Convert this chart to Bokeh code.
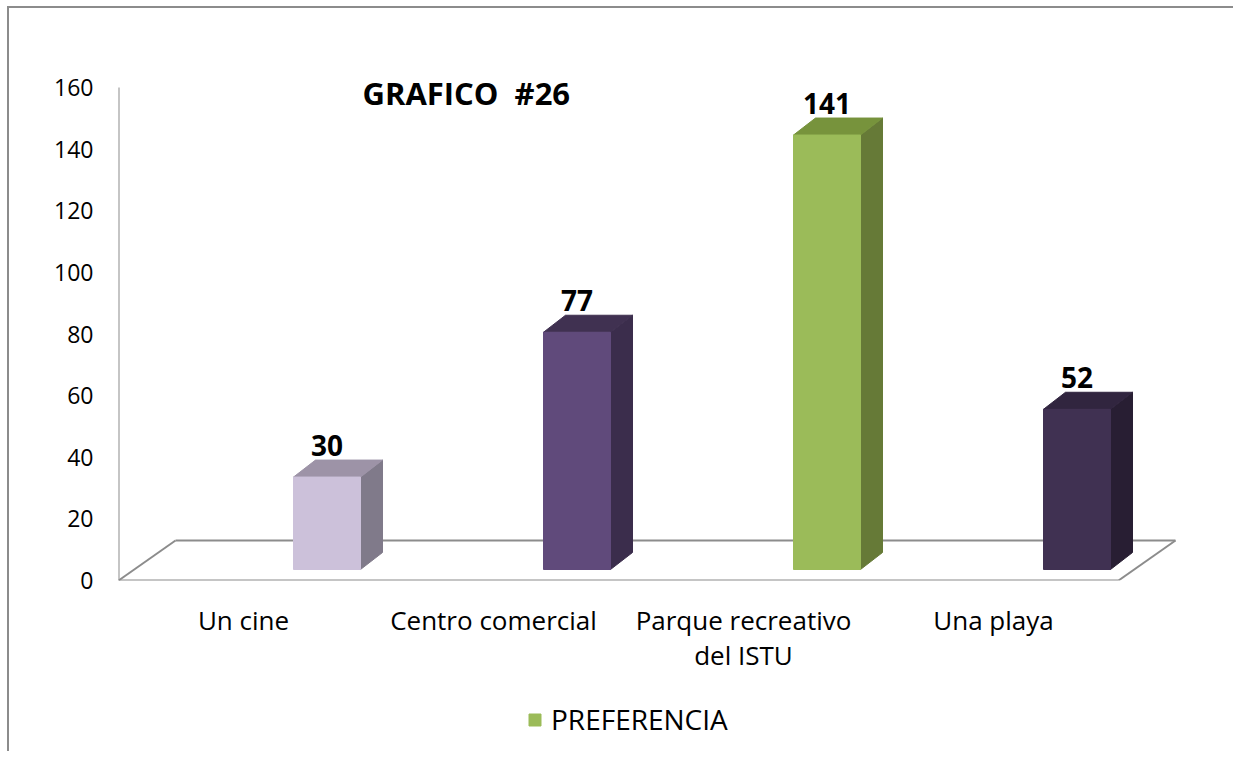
from bokeh.plotting import figure
from bokeh.layouts import column
from bokeh.models import (FixedTicker, Range1d, Label, Legend, LegendItem,
                          ColumnDataSource)
from bokeh.core.properties import value
from bokeh.embed import file_html
from bokeh.resources import INLINE

# ---------------- data ----------------
categories = ["Un cine", "Centro comercial", "Parque recreativo\ndel ISTU", "Una playa"]
counts = [30, 77, 141, 52]
y_ticks = [0, 20, 40, 60, 80, 100, 120, 140, 160]
series_name = "PREFERENCIA"
title_text = "GRAFICO  #26"
front_colors = ["#CCC1DA", "#604A7B", "#9BBB59", "#403152"]
top_colors = ["#9D93A7", "#403151", "#77933C", "#31253F"]
side_colors = ["#807A8A", "#3B2D4C", "#667A37", "#281E33"]

# ---------------- geometry (styling of the pseudo-3D look) ----------------
FONT = "Open Sans"
W, H, H_LEG = 1233, 700, 51
B_LEFT, B_TOP, B_RIGHT, B_BOTTOM = 118, 40, 43, 120
PX_PER_CAT = 250.0
PX_PER_UNIT = 493.0 / 160.0
frame_w = W - B_LEFT - B_RIGHT
frame_h = H - B_TOP - B_BOTTOM
n = len(categories)

floor_dx = 57 / PX_PER_CAT          # depth of floor (x, category units)
floor_dy = 40 / PX_PER_UNIT         # depth of floor (y, value units)
bar_shift = 83.5 / PX_PER_CAT       # bars sit inside the floor
bar_base = 11 / PX_PER_UNIT
bar_w = 67 / PX_PER_CAT
dep_x = 22 / PX_PER_CAT
dep_y = 17 / PX_PER_UNIT
line_col = "#8C8C8C"

p = figure(width=W, height=H, output_backend="svg", toolbar_location=None,
           x_range=Range1d(0, frame_w / PX_PER_CAT),
           y_range=Range1d(0, frame_h / PX_PER_UNIT),
           min_border_left=B_LEFT, min_border_top=B_TOP,
           min_border_right=B_RIGHT, min_border_bottom=B_BOTTOM)
p.outline_line_color = None
p.xgrid.visible = False
p.ygrid.visible = False
p.background_fill_alpha = 0
p.border_fill_alpha = 0

# axes
p.yaxis.ticker = FixedTicker(ticks=y_ticks)
p.yaxis.axis_line_color = None
p.yaxis.major_tick_line_color = None
p.yaxis.minor_tick_line_color = None
p.yaxis.major_label_text_font = FONT
p.yaxis.major_label_text_font_size = "23px"
p.yaxis.major_label_text_color = "black"
p.yaxis.major_label_standoff = 19

centers = [i + 0.5 for i in range(n)]
p.xaxis.ticker = FixedTicker(ticks=centers)
p.xaxis.major_label_overrides = {c: lab for c, lab in zip(centers, categories)}
p.xaxis.axis_line_color = None
p.xaxis.major_tick_line_color = None
p.xaxis.minor_tick_line_color = None
p.xaxis.major_label_text_font = FONT
p.xaxis.major_label_text_font_size = "26px"
p.xaxis.major_label_text_color = "black"
p.xaxis.major_label_text_line_height = 0.98
p.xaxis.major_label_standoff = 15

# floor and value axis line
p.segment(x0=[0, floor_dx, 0, n, 0], y0=[0, floor_dy, 0, 0, 0],
          x1=[n, n + floor_dx, floor_dx, n + floor_dx, 0],
          y1=[0, floor_dy, floor_dy, floor_dy, y_ticks[-1]],
          line_color=line_col, line_width=2)

# bars
lefts = [c + bar_shift - bar_w / 2 for c in centers]
rights = [l + bar_w for l in lefts]
bottoms = [bar_base] * n
tops = [bar_base + v for v in counts]

top_xs = [[l, r, r + dep_x, l + dep_x] for l, r in zip(lefts, rights)]
top_ys = [[t, t, t + dep_y, t + dep_y] for t in tops]
side_xs = [[r, r + dep_x, r + dep_x, r] for r in rights]
side_ys = [[b, b + dep_y, t + dep_y, t] for b, t in zip(bottoms, tops)]

p.patches(xs=side_xs, ys=side_ys, fill_color=side_colors, line_color=side_colors)
p.patches(xs=top_xs, ys=top_ys, fill_color=top_colors, line_color=top_colors)
src = ColumnDataSource(dict(left=lefts, right=rights, bottom=bottoms, top=tops,
                            color=front_colors))
p.quad(left="left", right="right", bottom="bottom", top="top",
       source=src, fill_color="color", line_color="color")

# value labels
p.text(x=[(l + r) / 2 for l, r in zip(lefts, rights)],
       y=[t + dep_y + 15 / PX_PER_UNIT for t in tops],
       text=[str(v) for v in counts],
       text_font=value(FONT), text_font_style="bold", text_font_size="28px",
       text_align="center", text_baseline="middle", text_color="black")

# title
p.add_layout(Label(x=(362 - 118) / PX_PER_CAT, y=(580 - 92) / PX_PER_UNIT,
                   text=title_text.replace("  ", " \u00a0"), text_font=FONT,
                   text_font_style="bold", text_font_size="31px",
                   text_color="black", text_baseline="middle"))

# legend strip (its own small figure under the chart)
lf = figure(width=W, height=H_LEG, output_backend="svg", toolbar_location=None,
            x_axis_type=None, y_axis_type=None, min_border=0,
            x_range=Range1d(0, 1), y_range=Range1d(0, 1))
lf.outline_line_color = None
lf.xgrid.visible = False
lf.ygrid.visible = False
lf.background_fill_alpha = 0
lf.border_fill_alpha = 0
leg_src = ColumnDataSource(dict(left=lefts, right=rights, bottom=bottoms, top=tops,
                                color=front_colors))
leg_r = lf.quad(left="left", right="right", bottom="bottom", top="top",
                source=leg_src, fill_color="color", line_color="color")
leg_r.visible = False
legend = Legend(items=[LegendItem(label=series_name, renderers=[leg_r], index=2)],
                location=(409, 13), orientation="horizontal",
                glyph_width=15, glyph_height=15, label_standoff=9,
                label_text_font=FONT, label_text_font_size="28px",
                label_text_color="black", padding=0, margin=0, spacing=0,
                border_line_color=None, background_fill_alpha=0,
                inactive_fill_alpha=0)
lf.add_layout(legend, "center")

layout = column(p, lf, spacing=0)
# outer chart border (top and left edges visible in the picture), drawn as CSS
layout.styles = {
    "background-color": "white",
    "background-image": f"linear-gradient({line_col},{line_col}), linear-gradient({line_col},{line_col})",
    "background-size": "100% 2px, 2px 100%",
    "background-position": "8px 6px, 7px 6px",
    "background-repeat": "no-repeat",
}

open("out.html", "w").write(file_html(layout, INLINE))
